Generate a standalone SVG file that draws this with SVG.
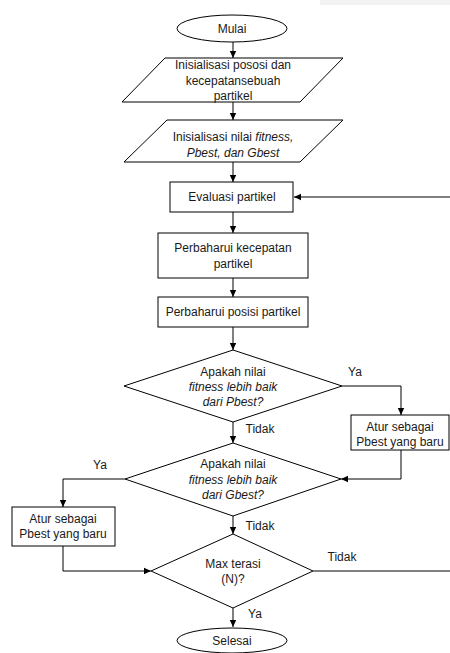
<svg xmlns="http://www.w3.org/2000/svg" width="450" height="653" viewBox="0 0 450 653">
<style>
.s{fill:#fff;stroke:#000;stroke-width:1}
.t{font-family:"Liberation Sans",Arial,sans-serif;font-size:12px;fill:#1a1a1a;text-anchor:middle}
.i{font-style:italic}
.c{fill:none;stroke:#000;stroke-width:1}
</style>
<defs>
<marker id="a" markerWidth="8" markerHeight="8" refX="7" refY="4" orient="auto" markerUnits="userSpaceOnUse">
<path d="M0,0.8 L7,4 L0,7.2 Z" fill="#000"/>
</marker>
</defs>
<rect x="320" y="0" width="130" height="5" fill="#f2f2f2"/>
<g id="connectors">
<path class="c" d="M233,42 V58" marker-end="url(#a)"/>
<path class="c" d="M233,102 V120" marker-end="url(#a)"/>
<path class="c" d="M233,162 V182" marker-end="url(#a)"/>
<path class="c" d="M233,212 V233" marker-end="url(#a)"/>
<path class="c" d="M233,278 V297" marker-end="url(#a)"/>
<path class="c" d="M233,327 V350" marker-end="url(#a)"/>
<path class="c" d="M342,386 H401 V415" marker-end="url(#a)"/>
<path class="c" d="M233,422 V443" marker-end="url(#a)"/>
<path class="c" d="M401,450 V479 H341" marker-end="url(#a)"/>
<path class="c" d="M125,479 H63 V507" marker-end="url(#a)"/>
<path class="c" d="M233,516 V534" marker-end="url(#a)"/>
<path class="c" d="M63,546 V571 H151" marker-end="url(#a)"/>
<path class="c" d="M313,571 H450"/>
<path class="c" d="M450,197 H294" marker-end="url(#a)"/>
<path class="c" d="M233,608 V627" marker-end="url(#a)"/>
</g>
<g id="mulai">
<ellipse class="s" cx="232" cy="28.5" rx="55" ry="13.5"/>
<text class="t" x="232" y="33">Mulai</text>
</g>
<g id="init1">
<polygon class="s" points="165,58 343,58 300,102 122,102"/>
<text class="t" x="233" y="69">Inisialisasi pososi dan</text>
<text class="t" x="233" y="85">kecepatansebuah</text>
<text class="t" x="233" y="101" dy="-1">partikel</text>
</g>
<g id="init2">
<polygon class="s" points="167,120 343,120 300,162 124,162"/>
<text class="t" x="233" y="141">Inisialisasi nilai <tspan class="i">fitness,</tspan></text>
<text class="t i" x="233" y="157">Pbest, dan Gbest</text>
</g>
<g id="evaluasi">
<rect class="s" x="170" y="182" width="123" height="30"/>
<text class="t" x="232" y="201">Evaluasi partikel</text>
</g>
<g id="kecepatan">
<rect class="s" x="158" y="233" width="150" height="45"/>
<text class="t" x="233" y="252">Perbaharui kecepatan</text>
<text class="t" x="233" y="268">partikel</text>
</g>
<g id="posisi">
<rect class="s" x="158" y="297" width="150" height="30"/>
<text class="t" x="233" y="316">Perbaharui posisi partikel</text>
</g>
<g id="cek-pbest">
<polygon class="s" points="233,350 342,386 233,422 124,386"/>
<text class="t" x="233" y="376">Apakah nilai</text>
<text class="t i" x="233" y="391">fitness lebih baik</text>
<text class="t i" x="233" y="406">dari Pbest?</text>
</g>
<g id="atur-pbest">
<rect class="s" x="351" y="415" width="98" height="35"/>
<text class="t" x="400" y="431">Atur sebagai</text>
<text class="t" x="400" y="446">Pbest yang baru</text>
</g>
<g id="cek-gbest">
<polygon class="s" points="233,443 341,479 233,516 125,479"/>
<text class="t" x="233" y="468">Apakah nilai</text>
<text class="t i" x="233" y="484">fitness lebih baik</text>
<text class="t i" x="233" y="499">dari Gbest?</text>
</g>
<g id="atur-gbest">
<rect class="s" x="12" y="507" width="103" height="39"/>
<text class="t" x="63" y="523">Atur sebagai</text>
<text class="t" x="63" y="538">Pbest yang baru</text>
</g>
<g id="max-iterasi">
<polygon class="s" points="233,534 313,571 233,608 151,571"/>
<text class="t" x="233" y="568">Max terasi</text>
<text class="t" x="233" y="583">(N)?</text>
</g>
<g id="selesai">
<ellipse class="s" cx="232" cy="640.5" rx="55" ry="12.5"/>
<text class="t" x="232" y="645">Selesai</text>
</g>
<g id="labels">
<text class="t" x="355" y="376">Ya</text>
<text class="t" x="260" y="433">Tidak</text>
<text class="t" x="100" y="469">Ya</text>
<text class="t" x="260" y="530">Tidak</text>
<text class="t" x="342" y="561">Tidak</text>
<text class="t" x="255" y="618">Ya</text>
</g>
</svg>
